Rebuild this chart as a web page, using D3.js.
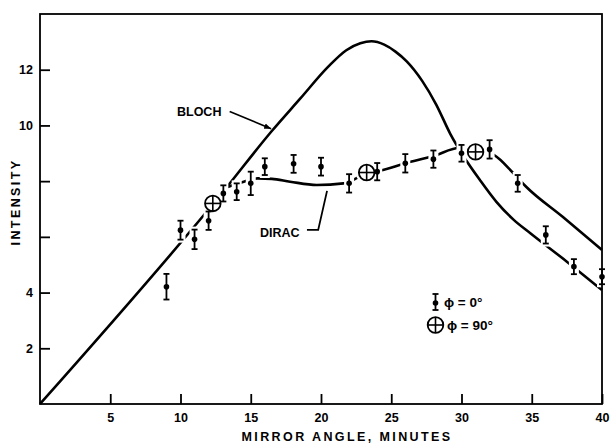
<!DOCTYPE html>
<html><head><meta charset="utf-8">
<script src="https://cdn.jsdelivr.net/npm/d3@7"></script>
<style>body{margin:0;background:#fff}svg{display:block}</style>
</head><body>
<svg id="chart" width="610" height="445"></svg>
<script>
// ---- data ----
const xTicks = [5, 10, 15, 20, 25, 30, 35, 40];
const yTicks = [2, 4, 6, 8, 10, 12];
const yTickLabels = ["2", "4", "", "", "10", "12"];

// Bloch theory curve
const blochX = [0, 13, 16.5, 18.5, 20.5, 21.8, 22.8, 23.6, 24.5, 25.3, 26.1, 27.2, 28.2, 29.2, 30.2, 31.3, 32.5, 33.7, 34.9, 37.5, 40];
const blochY = [0, 7.6, 9.8, 10.95, 12.1, 12.7, 12.95, 13.02, 12.9, 12.65, 12.3, 11.6, 10.75, 9.7, 8.85, 8.05, 7.25, 6.62, 6.13, 5.11, 4.09];

// Dirac theory curve (branch from Bloch line)
const diracX = [13.3, 14.5, 15.5, 16.5, 17.8, 19.7, 21.6, 22.5, 23.25, 24.2, 26, 28, 29.9, 30.8, 32.3, 33.7, 34.6, 37.2, 40];
const diracY = [7.78, 7.98, 8.1, 8.08, 7.98, 7.86, 7.92, 8.1, 8.31, 8.38, 8.64, 8.9, 9.2, 9.15, 8.94, 8.28, 7.8, 6.72, 5.53];

// measured points, phi = 0 deg
const p0X = [9, 10, 11, 12, 13.05, 14, 15, 16, 18.05, 20, 22, 24, 26, 28, 30, 32, 34, 36, 38, 40];
const p0Y = [4.21, 6.24, 5.91, 6.58, 7.56, 7.62, 7.92, 8.52, 8.62, 8.52, 7.92, 8.34, 8.64, 8.79, 9.0, 9.14, 7.92, 6.07, 4.93, 4.57];
const p0Err = [0.46, 0.34, 0.35, 0.33, 0.29, 0.3, 0.42, 0.3, 0.32, 0.32, 0.33, 0.31, 0.33, 0.31, 0.3, 0.33, 0.3, 0.31, 0.27, 0.27];

// measured points, phi = 90 deg
const p90X = [12.3, 23.25, 31.0];
const p90Y = [7.2, 8.31, 9.05];

// ---- chart ----
const svg = d3.select("#chart");
const FONT = "'Liberation Sans', Arial, sans-serif";
const x = d3.scaleLinear().domain([0, 40]).range([40, 602]);
const y = d3.scaleLinear().domain([0, 14]).range([404, 14]);

const line = d3.line().x(d => x(d[0])).y(d => y(d[1])).curve(d3.curveMonotoneX);

// curves
svg.append("path").datum(blochX.map((v, i) => [v, blochY[i]]))
  .attr("d", line).attr("fill", "none").attr("stroke", "#000").attr("stroke-width", 2.6);
svg.append("path").datum(diracX.map((v, i) => [v, diracY[i]]))
  .attr("d", line).attr("fill", "none").attr("stroke", "#000").attr("stroke-width", 2.6);

// white halos behind the data points (break the curves)
const p0 = p0X.map((v, i) => ({x: v, y: p0Y[i], e: p0Err[i]}));
svg.append("g").selectAll("rect").data(p0).join("rect")
  .attr("x", d => x(d.x) - 5).attr("width", 10)
  .attr("y", d => y(d.y + d.e) - 3).attr("height", d => y(d.y - d.e) - y(d.y + d.e) + 6)
  .attr("fill", "#fff");
const p90 = p90X.map((v, i) => ({x: v, y: p90Y[i]}));
svg.append("g").selectAll("circle").data(p90).join("circle")
  .attr("cx", d => x(d.x)).attr("cy", d => y(d.y)).attr("r", 11).attr("fill", "#fff");

// phi=0 markers
const g0 = svg.append("g").attr("stroke", "#000").attr("fill", "#000");
p0.forEach(d => {
  const cx = x(d.x), t = y(d.y + d.e), b = y(d.y - d.e);
  g0.append("line").attr("x1", cx).attr("x2", cx).attr("y1", t).attr("y2", b).attr("stroke-width", 1.8);
  g0.append("line").attr("x1", cx - 3).attr("x2", cx + 3).attr("y1", t).attr("y2", t).attr("stroke-width", 1.8);
  g0.append("line").attr("x1", cx - 3).attr("x2", cx + 3).attr("y1", b).attr("y2", b).attr("stroke-width", 1.8);
  g0.append("circle").attr("cx", cx).attr("cy", y(d.y)).attr("r", 2.8).attr("stroke", "none");
});

// phi=90 markers
function oplus(g, cx, cy, r) {
  g.append("circle").attr("cx", cx).attr("cy", cy).attr("r", r).attr("fill", "#fff").attr("stroke", "#000").attr("stroke-width", 1.8);
  g.append("line").attr("x1", cx - r).attr("x2", cx + r).attr("y1", cy).attr("y2", cy).attr("stroke", "#000").attr("stroke-width", 1.6);
  g.append("line").attr("x1", cx).attr("x2", cx).attr("y1", cy - r).attr("y2", cy + r).attr("stroke", "#000").attr("stroke-width", 1.6);
}
const g90 = svg.append("g");
p90.forEach(d => oplus(g90, x(d.x), y(d.y), 7.8));

// frame
svg.append("rect").attr("x", x(0)).attr("y", y(14)).attr("width", x(40) - x(0)).attr("height", y(0) - y(14))
  .attr("fill", "none").attr("stroke", "#000").attr("stroke-width", 1.8);

// axes
const xa = svg.append("g").attr("transform", `translate(0,${y(0)})`)
  .call(d3.axisBottom(x).tickValues(xTicks).tickSize(-10).tickPadding(9));
const ya = svg.append("g").attr("transform", `translate(${x(0)},0)`)
  .call(d3.axisLeft(y).tickValues(yTicks).tickSize(-10).tickPadding(7)
    .tickFormat((d, i) => yTickLabels[i]));
[xa, ya].forEach(a => {
  a.select(".domain").remove();
  a.selectAll(".tick line").attr("stroke", "#000").attr("stroke-width", 1.8);
  a.selectAll(".tick text").attr("fill", "#000").style("font-family", FONT)
    .style("font-size", "12.5px").style("font-weight", "bold");
});

// axis titles
svg.append("text").attr("x", 347).attr("y", 441).attr("text-anchor", "middle")
  .style("font-family", FONT).style("font-size", "12.5px").style("font-weight", "bold")
  .style("letter-spacing", "2.4px").text("MIRROR ANGLE, MINUTES");
svg.append("text").attr("transform", "translate(20,202) rotate(-90)").attr("text-anchor", "middle")
  .style("font-family", FONT).style("font-size", "12.5px").style("font-weight", "bold")
  .style("letter-spacing", "2.4px").text("INTENSITY");

// annotations
svg.append("defs").append("marker").attr("id", "ah").attr("viewBox", "0 0 10 10")
  .attr("refX", 10).attr("refY", 5).attr("markerWidth", 7).attr("markerHeight", 7)
  .attr("markerUnits", "userSpaceOnUse").attr("orient", "auto")
  .append("path").attr("d", "M0,1 L10,5 L0,9 Z").attr("fill", "#000");
svg.append("text").attr("x", x(9.75)).attr("y", y(10.35))
  .style("font-family", FONT).style("font-size", "12.5px").style("font-weight", "bold").text("BLOCH");
svg.append("line").attr("x1", x(13.5)).attr("y1", y(10.5)).attr("x2", x(16.45)).attr("y2", y(9.88))
  .attr("stroke", "#000").attr("stroke-width", 1.6).attr("marker-end", "url(#ah)");
svg.append("text").attr("x", x(15.66)).attr("y", y(6.0))
  .style("font-family", FONT).style("font-size", "12.5px").style("font-weight", "bold").text("DIRAC");
svg.append("path").attr("d", d3.line()([[x(19.0), y(6.25)], [x(19.8), y(6.25)], [x(20.43), y(7.65)]]))
  .attr("fill", "none").attr("stroke", "#000").attr("stroke-width", 1.8);

// legend
const lg = svg.append("g");
const lx = 435.5, ly1 = 302, ly2 = 325;
lg.append("line").attr("x1", lx).attr("x2", lx).attr("y1", ly1 - 8).attr("y2", ly1 + 8).attr("stroke", "#000").attr("stroke-width", 1.8);
lg.append("line").attr("x1", lx - 3).attr("x2", lx + 3).attr("y1", ly1 - 8).attr("y2", ly1 - 8).attr("stroke", "#000").attr("stroke-width", 1.8);
lg.append("line").attr("x1", lx - 3).attr("x2", lx + 3).attr("y1", ly1 + 8).attr("y2", ly1 + 8).attr("stroke", "#000").attr("stroke-width", 1.8);
lg.append("circle").attr("cx", lx).attr("cy", ly1 + 1).attr("r", 2.8).attr("fill", "#000");
oplus(lg, lx, ly2, 7.8);
lg.append("text").attr("x", 444).attr("y", ly1 + 5)
  .style("font-family", FONT).style("font-size", "13.5px").style("font-weight", "bold").text("ϕ = 0°");
lg.append("text").attr("x", 447).attr("y", ly2 + 5)
  .style("font-family", FONT).style("font-size", "13.5px").style("font-weight", "bold").text("ϕ = 90°");
</script>
</body></html>
